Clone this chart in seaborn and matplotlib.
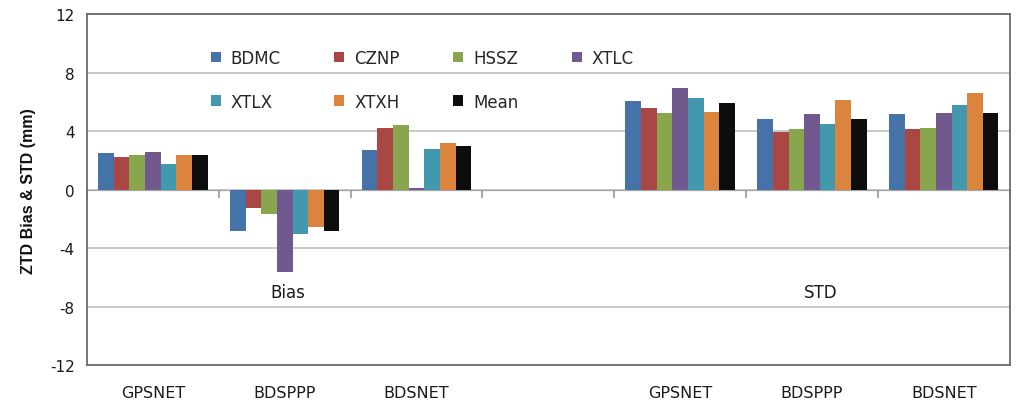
import numpy as np
import pandas as pd
import seaborn as sns
import matplotlib.pyplot as plt

# values (mm)
stations = ["BDMC", "CZNP", "HSSZ", "XTLC", "XTLX", "XTXH", "Mean"]
networks = ["GPSNET", "BDSPPP", "BDSNET"]

bias_gpsnet = [2.50, 2.20, 2.34, 2.57, 1.77, 2.39, 2.34]
bias_bdsppp = [-2.84, -1.25, -1.64, -5.60, -3.05, -2.57, -2.84]
bias_bdsnet = [2.73, 4.20, 4.45, 0.10, 2.80, 3.20, 3.00]

std_gpsnet = [6.07, 5.57, 5.27, 6.98, 6.30, 5.34, 5.95]
std_bdsppp = [4.80, 3.93, 4.13, 5.16, 4.50, 6.13, 4.80]
std_bdsnet = [5.16, 4.18, 4.25, 5.27, 5.77, 6.60, 5.23]

colors = ["#4572A7", "#AA4643", "#89A54E", "#71588F", "#4198AF", "#DB843D", "#0D0D0D"]

rows = []
for metric, groups in [("Bias", [bias_gpsnet, bias_bdsppp, bias_bdsnet]),
                       ("STD", [std_gpsnet, std_bdsppp, std_bdsnet])]:
    for net, vals in zip(networks, groups):
        for st, v in zip(stations, vals):
            rows.append((metric + " " + net, st, v))
df = pd.DataFrame(rows, columns=["slot", "station", "value"])

order = ["Bias " + n for n in networks] + ["gap"] + ["STD " + n for n in networks]
tick_labels = networks + [""] + networks

sns.set_style("white")
plt.rcParams['font.family'] = ['DejaVu Sans']
plt.rcParams['axes.unicode_minus'] = False

fig = plt.figure(figsize=(10.24, 4.1), dpi=100)
ax = fig.add_axes([0.085, 0.107, 0.901, 0.856])

sns.barplot(data=df, x="slot", y="value", hue="station", order=order,
            hue_order=stations, palette=colors, saturation=1, width=0.83, gap=0,
            linewidth=0, edgecolor="none", ax=ax, zorder=3)

ax.set_xlim(-0.5, len(order) - 0.5)
ax.set_ylim(-12, 12)
ax.set_yticks(np.arange(-12, 13, 4))
ax.tick_params(axis="y", direction="out", length=5, color="#7f7f7f",
               labelsize=11, labelcolor="#1a1a1a", pad=4)
ax.yaxis.grid(True, color="#bfbfbf", linewidth=1.2, zorder=0)
ax.set_axisbelow(True)

ax.set_xticks(range(len(order)))
ax.set_xticklabels(tick_labels, fontsize=11.5, color="#1a1a1a")
ax.tick_params(axis="x", length=0, pad=14)
ax.set_xlabel("")
ax.set_ylabel("ZTD Bias & STD (mm)", fontsize=11.5, fontweight="bold",
              family="Liberation Sans", labelpad=10, color="#111111")

for s in ax.spines.values():
    s.set_visible(True)
    s.set_color("#6b6b6b")
    s.set_linewidth(1.3)

# category axis on the zero line, ticks pointing down
zero_ax = ax.secondary_xaxis(0.5)
zero_ax.set_xticks(np.arange(-0.5, len(order), 1.0))
zero_ax.set_xticklabels([])
zero_ax.tick_params(direction="in", length=6, color="#9a9a9a", width=1.2)
zero_ax.spines["bottom"].set_color("#a6a6a6")
zero_ax.spines["bottom"].set_linewidth(1.5)

ax.text(1.02, -7.0, "Bias", fontsize=12, ha="center", va="center", color="#1a1a1a")
ax.text(5.07, -7.0, "STD", fontsize=12, ha="center", va="center", color="#1a1a1a")

# legend filled row by row (matplotlib fills by column)
handles, labels = ax.get_legend_handles_labels()
idx = [0, 4, 1, 5, 2, 6, 3]
ax.legend([handles[i] for i in idx], [labels[i] for i in idx], ncol=4,
          frameon=False, loc="upper left", bbox_to_anchor=(0.125, 0.925),
          fontsize=12, handlelength=0.6, handleheight=0.6, handletextpad=0.6,
          columnspacing=3.2, labelspacing=1.55, borderpad=0)

fig.savefig("out.png", dpi=100)
